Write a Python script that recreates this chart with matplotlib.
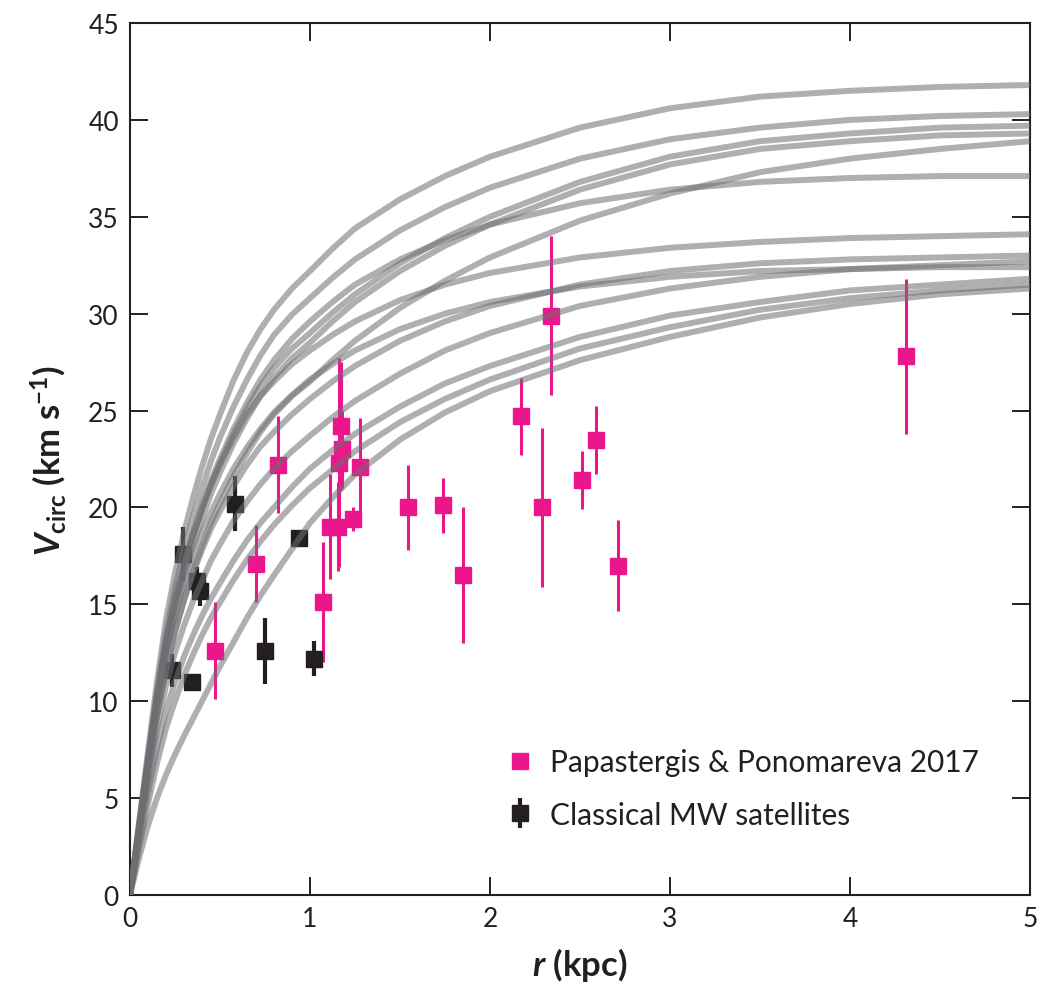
import matplotlib
matplotlib.use('Agg')
import matplotlib.pyplot as plt
from matplotlib.lines import Line2D

plt.rcParams['font.family'] = ['Lato', 'DejaVu Sans']
plt.rcParams['mathtext.fontset'] = 'custom'
plt.rcParams['mathtext.rm'] = 'Lato:bold'
plt.rcParams['mathtext.it'] = 'Lato:bold:italic'
plt.rcParams['mathtext.bf'] = 'Lato:bold'

# ---------------- data ----------------
r_grid = [0, 0.05, 0.1, 0.15, 0.2, 0.25, 0.3, 0.35, 0.4, 0.45, 0.5, 0.575, 0.65,
          0.725, 0.8, 0.9, 1.0, 1.125, 1.25, 1.5, 1.75, 2.0, 2.5, 3.0, 3.5,
          4.0, 4.5, 5.0]

v_A = [0, 3.7, 7.4, 11.0, 14.2, 16.6, 18.7, 20.5, 22.1, 23.55, 24.8, 26.55, 28.0,
       29.2, 30.2, 31.3, 32.2, 33.35, 34.4, 35.9, 37.1, 38.1, 39.6, 40.6, 41.2, 41.5, 41.7, 41.8]
v_B = [0, 3.6, 7.1, 10.5, 13.5, 15.8, 17.8, 19.5, 21.0, 22.4, 23.6, 25.2, 26.6,
       27.85, 28.9, 29.95, 30.8, 31.85, 32.8, 34.3, 35.5, 36.5, 38.0, 39.0, 39.6, 40.0, 40.2, 40.3]
v_C = [0, 3.4, 6.8, 10.0, 12.8, 14.95, 16.8, 18.45, 19.9, 21.2, 22.3, 23.8, 25.1,
       26.25, 27.2, 28.2, 29.0, 30.05, 31.0, 32.6, 33.9, 35.0, 36.8, 38.1, 38.9, 39.3, 39.6, 39.7]
v_D = [0, 3.4, 6.7, 9.8, 12.5, 14.6, 16.4, 18.0, 19.4, 20.7, 21.8, 23.3, 24.6,
       25.75, 26.7, 27.7, 28.5, 29.6, 30.6, 32.2, 33.5, 34.6, 36.4, 37.7, 38.5, 38.9, 39.2, 39.3]
v_E = [0, 3.2, 6.3, 9.2, 11.6, 13.55, 15.2, 16.7, 18.0, 19.2, 20.2, 21.6, 22.8,
       23.9, 24.8, 25.75, 26.5, 27.6, 28.6, 30.3, 31.7, 32.9, 34.8, 36.2, 37.3, 38.0, 38.5, 38.9]
v_F = [0, 3.5, 7.0, 10.3, 13.1, 15.25, 17.1, 18.7, 20.1, 21.4, 22.5, 24.05, 25.4,
       26.6, 27.6, 28.7, 29.6, 30.6, 31.5, 32.8, 33.8, 34.6, 35.7, 36.4, 36.8, 37.0, 37.1, 37.1]
v_G = [0, 3.5, 7.0, 10.3, 13.1, 15.2, 17.0, 18.55, 19.9, 21.15, 22.2, 23.6, 24.8,
       25.75, 26.5, 27.4, 28.1, 28.9, 29.6, 30.7, 31.5, 32.1, 32.9, 33.4, 33.7, 33.9, 34.0, 34.1]
v_H = [0, 3.2, 6.4, 9.3, 11.7, 13.6, 15.2, 16.6, 17.8, 18.9, 19.8, 21.1, 22.2,
       23.15, 23.9, 24.8, 25.6, 26.5, 27.3, 28.6, 29.6, 30.4, 31.5, 32.2, 32.6, 32.8, 32.9, 33.0]
v_I = [0, 3.0, 5.9, 8.6, 10.8, 12.5, 13.9, 15.15, 16.2, 17.25, 18.1, 19.3, 20.3,
       21.2, 22.0, 22.9, 23.7, 24.65, 25.5, 26.9, 28.1, 29.0, 30.4, 31.3, 31.9, 32.3, 32.5, 32.7]
v_J = [0, 3.4, 6.8, 9.9, 12.5, 14.45, 16.1, 17.5, 18.7, 19.75, 20.7, 22.0, 23.1,
       24.05, 24.9, 25.8, 26.6, 27.4, 28.1, 29.2, 30.0, 30.6, 31.4, 31.9, 32.2, 32.3, 32.4, 32.4]
v_K = [0, 2.7, 5.3, 7.6, 9.5, 11.0, 12.3, 13.4, 14.4, 15.3, 16.1, 17.25, 18.3,
       19.2, 20.0, 21.05, 22.0, 22.95, 23.8, 25.2, 26.4, 27.3, 28.8, 29.9, 30.6, 31.2, 31.5, 31.8]
v_M = [0, 2.4, 4.7, 6.8, 8.6, 10.0, 11.3, 12.4, 13.4, 14.3, 15.1, 16.25, 17.3,
       18.25, 19.1, 20.1, 21.0, 21.95, 22.9, 24.4, 25.6, 26.6, 28.2, 29.3, 30.2, 30.8, 31.2, 31.5]
v_L = [0, 1.9, 3.6, 5.0, 6.2, 7.25, 8.2, 9.1, 10.0, 10.9, 11.8, 13.05, 14.3,
       15.45, 16.5, 17.85, 19.2, 20.5, 21.7, 23.5, 24.9, 26.0, 27.6, 28.8, 29.8, 30.5, 31.0, 31.3]
curves = [v_A, v_B, v_C, v_D, v_E, v_F, v_G, v_H, v_I, v_J, v_K, v_M, v_L]

# Papastergis & Ponomareva 2017
pp_r = [0.47, 0.70, 0.82, 1.07, 1.11, 1.155, 1.16, 1.17, 1.18, 1.24, 1.28,
        1.545, 1.74, 1.85, 2.17, 2.29, 2.34, 2.51, 2.59, 2.71, 4.31]
pp_v = [12.6, 17.1, 22.2, 15.1, 19.0, 19.0, 22.3, 24.2, 23.0, 19.4, 22.1,
        20.0, 20.1, 16.5, 24.7, 20.0, 29.9, 21.4, 23.5, 17.0, 27.8]
pp_err = [2.5, 2.0, 2.5, 3.1, 2.7, 2.3, 5.4, 3.3, 2.0, 0.6, 2.5,
          2.2, 1.4, 3.5, 2.0, 4.1, 4.1, 1.5, 1.75, 2.35, 4.0]

# Classical MW satellites
mw_r = [0.233, 0.294, 0.344, 0.372, 0.39, 0.583, 0.75, 0.94, 1.02]
mw_v = [11.6, 17.6, 11.0, 16.2, 15.7, 20.2, 12.6, 18.4, 12.2]
mw_err = [0.85, 1.4, 0.4, 0.7, 0.8, 1.4, 1.7, 0.3, 0.9]

x_ticks = [0, 1, 2, 3, 4, 5]
y_ticks = [0, 5, 10, 15, 20, 25, 30, 35, 40, 45]

# ---------------- plot ----------------
pink = '#ec168c'
dark = '#231f20'

fig = plt.figure(figsize=(10.55, 10.04), dpi=100)
ax = fig.add_axes([0.1232, 0.1076, 0.8531, 0.8685])

for v in curves:
    ax.plot(r_grid, v, color='#6d6e71', alpha=0.55, lw=4.3,
            solid_capstyle='butt', solid_joinstyle='round', zorder=3)

ax.errorbar(pp_r, pp_v, yerr=pp_err, fmt='s', color=pink, mec=pink,
            ms=12, elinewidth=2.2, capsize=0, zorder=2)
mw = ax.errorbar(mw_r, mw_v, yerr=mw_err, fmt='s', color=dark, mec=dark,
                 ms=11, elinewidth=3.0, capsize=0, zorder=2)

pp_handle = Line2D([], [], marker='s', ls='none', color=pink, mec=pink, ms=11)
leg = ax.legend([pp_handle, mw], ['Papastergis & Ponomareva 2017',
                                  'Classical MW satellites'],
                loc='upper left', bbox_to_anchor=(0.4067, 0.1817),
                frameon=False, fontsize=21.5, handlelength=0.8,
                handletextpad=0.6, labelspacing=0.81, borderaxespad=0)
for t in leg.get_texts():
    t.set_color(dark)

ax.set_xlim(0, 5)
ax.set_ylim(0, 45)
ax.set_xticks(x_ticks)
ax.set_yticks(y_ticks)
ax.tick_params(direction='in', length=13, width=1.4, top=True, right=True,
               labelsize=19, pad=8, color=dark, labelcolor=dark)
for s in ax.spines.values():
    s.set_linewidth(1.5)
    s.set_color(dark)

ax.set_xlabel(r'$r$ (kpc)', fontsize=25, fontweight='bold', color=dark, labelpad=10)
ax.set_ylabel(r'$V_{\mathrm{circ}}$ (km s$^{-1}$)', fontsize=25,
              fontweight='bold', color=dark, labelpad=14)

fig.savefig('out.png', dpi=100, facecolor='white')
